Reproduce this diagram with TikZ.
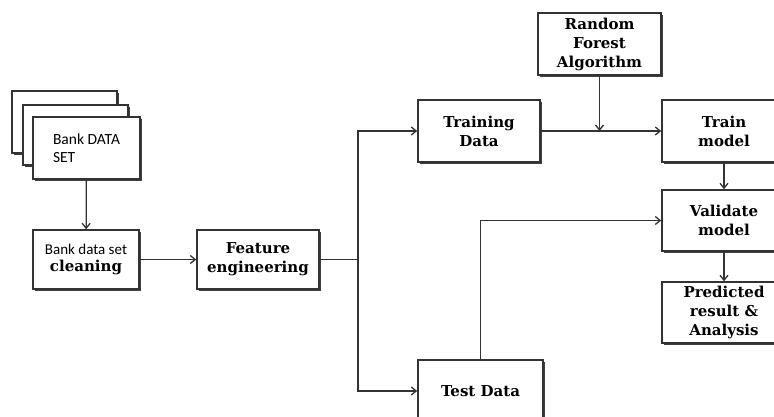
\documentclass[tikz,border=0pt]{standalone}
\usepackage{fontspec}
\setmainfont{DejaVu Serif}
\newfontfamily\calfont{Carlito}
\usetikzlibrary{shadows, arrows.meta}

\tikzset{
    blk/.style={draw=black!80, line width=1.4pt, fill=white, align=center,
        font=\fontsize{15}{19}\selectfont\bfseries, inner sep=2pt,
        drop shadow={shadow xshift=2pt, shadow yshift=-2pt, fill=black!75, opacity=1}},
    flow/.style={draw=black!80, line width=1.3pt, -{Straight Barb[length=5pt, width=8pt]}}
}

\begin{document}
\begin{tikzpicture}[x=1pt, y=-1pt]
        \useasboundingbox (0,0) rectangle (774,417);
        % stacked data set pages
        \node[blk, minimum width=105pt, minimum height=62pt] (page1) at (64.5,122) {};
        \node[blk, minimum width=105pt, minimum height=60pt] (page2) at (75.5,135) {};
        \node[blk, minimum width=107pt, minimum height=62pt, font=\calfont\fontsize{15.5}{18}\selectfont, align=left] (dataset) at (86.5,148) {Bank DATA\\SET\hspace*{42pt}};
        % main chain
        \node[blk, minimum width=106pt, minimum height=59pt] (clean) at (86,259.5) {{\calfont\mdseries\fontsize{15}{16}\selectfont Bank data set}\\[-2pt]cleaning};
        \node[blk, minimum width=122pt, minimum height=59pt] (feat) at (258,259.5) {Feature\\engineering};
        \node[blk, minimum width=122pt, minimum height=62pt] (train) at (479,131) {Training\\Data};
        \node[blk, minimum width=125pt, minimum height=62pt] (test) at (480.5,391) {Test Data};
        \node[blk, minimum width=123pt, minimum height=62pt] (rf) at (599.5,44) {Random\\Forest\\Algorithm};
        \node[blk, minimum width=124pt, minimum height=62pt] (trmodel) at (724,131) {Train\\model};
        \node[blk, minimum width=124pt, minimum height=61pt] (valid) at (724,220.5) {Validate\\model};
        \node[blk, minimum width=124pt, minimum height=61pt] (pred) at (724,312.5) {Predicted\\result \&\\Analysis};

        \coordinate (split) at (358,259.5);
        \coordinate (merge) at (rf.south |- train.east);

        \draw[flow] (dataset) -- (clean);
        \draw[flow] (clean) -- (feat);
        \draw[draw=black!80, line width=1.3pt] (feat) -- (split);
        \draw[flow] (split) |- (train);
        \draw[flow] (split) |- (test);
        \draw[flow] (rf) -- (merge);
        \draw[flow] (train) -- (trmodel);
        \draw[flow] (trmodel) -- (valid);
        \draw[flow] (test.north) |- (valid.west);
        \draw[flow] (valid) -- (pred);
    \end{tikzpicture}
\end{document}
